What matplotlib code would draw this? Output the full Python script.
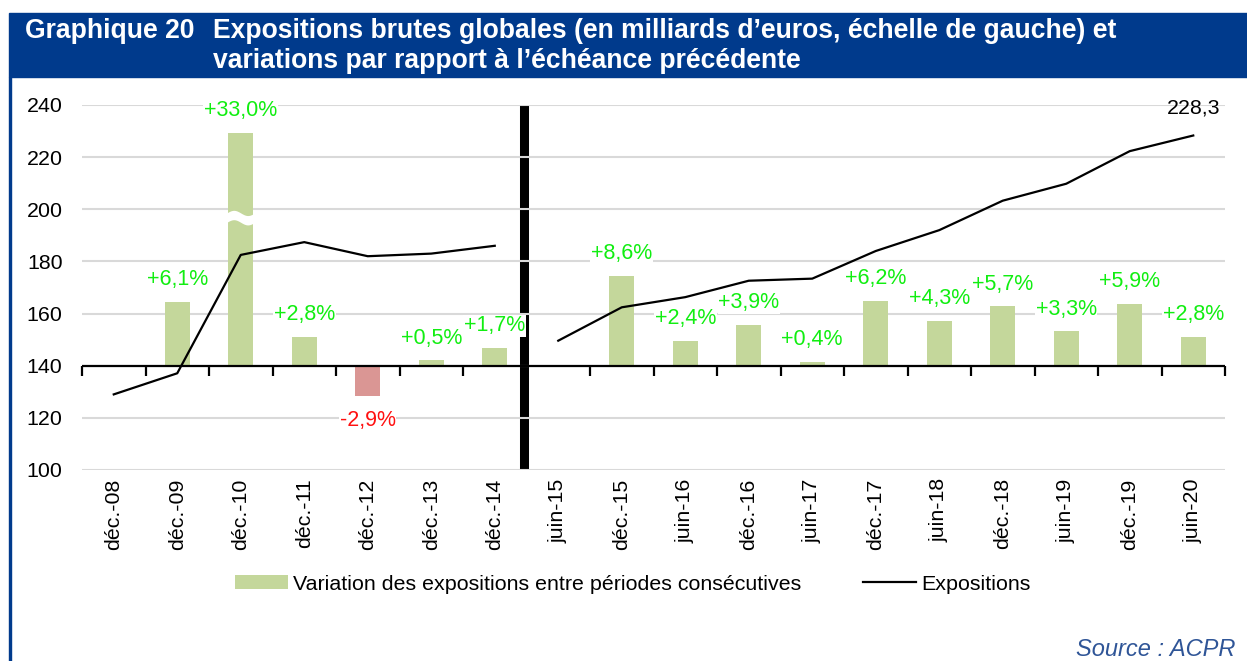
import matplotlib
matplotlib.use("Agg")
import matplotlib.pyplot as plt
from matplotlib.patches import Rectangle, Patch
from matplotlib.lines import Line2D
import numpy as np

# ---- data ----
categories = ["déc.-08", "déc.-09", "déc.-10", "déc.-11", "déc.-12", "déc.-13", "déc.-14",
              "juin-15", "déc.-15", "juin-16", "déc.-16", "juin-17", "déc.-17", "juin-18",
              "déc.-18", "juin-19", "déc.-19", "juin-20"]
expositions = [129.0, 137.1, 182.5, 187.4, 182.0, 183.0, 186.0,
               149.6, 162.4, 166.3, 172.6, 173.4, 184.0, 192.0,
               203.3, 209.8, 222.3, 228.3]
variations = [np.nan, 6.1, 33.0, 2.8, -2.9, 0.5, 1.7,
              np.nan, 8.6, 2.4, 3.9, 0.4, 6.2, 4.3,
              5.7, 3.3, 5.9, 2.8]
var_labels = ["", "+6,1%", "+33,0%", "+2,8%", "-2,9%", "+0,5%", "+1,7%",
              "", "+8,6%", "+2,4%", "+3,9%", "+0,4%", "+6,2%", "+4,3%",
              "+5,7%", "+3,3%", "+5,9%", "+2,8%"]
break_index = 7          # series restart (new perimeter) at juin-15
bar_cap = 22.35          # visible top of the broken 33 % bar (pct scale)
last_label = "228,3"

plt.rcParams['font.family'] = ['Liberation Sans', 'DejaVu Sans']
FS = 15.4

W, H = 1247, 661
fig = plt.figure(figsize=(W / 100, H / 100), dpi=100)

# title band and left border
fig.patches.append(Rectangle((9 / W, 1 - 77 / H), 1 - 9 / W, 64 / H,
                             transform=fig.transFigure, color='#003A8C', zorder=0))
fig.patches.append(Rectangle((9 / W, 0), 2 / W, 1 - 77 / H,
                             transform=fig.transFigure, color='#003A8C', zorder=0))
fig.text(25 / W, 1 - 31 / H, "Graphique 20", color='white', fontsize=19.1,
         fontweight='bold', va='center', ha='left')
fig.text(213 / W, 1 - 31 / H, "Expositions brutes globales (en milliards d’euros, échelle de gauche) et",
         color='white', fontsize=19.1, fontweight='bold', va='center', ha='left')
fig.text(213 / W, 1 - 61 / H, "variations par rapport à l’échéance précédente",
         color='white', fontsize=19.1, fontweight='bold', va='center', ha='left')

left, right, top, bottom = 82, 1225, 105, 470
ax = fig.add_axes([left / W, 1 - bottom / H, (right - left) / W, (bottom - top) / H])
ax2 = ax.twinx()

x = np.arange(len(categories))

# pct axis (bars), 0 % aligned with 140 on exposure axis, 1 % = 4 units
ax.set_ylim(-10, 25)
ax.set_xlim(-0.5, len(categories) - 0.5)
ax.set_yticks(np.arange(-10, 26, 5))
ax.tick_params(axis='y', left=False, labelleft=False, right=False)
ax.grid(axis='y', color='#D9D9D9', linewidth=1.5)
ax.set_axisbelow(True)
for s in ax.spines.values():
    s.set_visible(False)

var = np.array(variations, dtype=float)
shown = np.minimum(var, bar_cap)
colors = ['#C4D79B' if v >= 0 else '#DA9694' for v in np.nan_to_num(var)]
ax.bar(x, shown, width=0.4, color=colors, zorder=2)

# break marks on the truncated bar
for i, v in enumerate(var):
    if not np.isnan(v) and v > bar_cap:
        yy = np.linspace(-0.22, 0.22, 50)
        wave = 14.2 + 0.25 * np.sin((yy + 0.22) / 0.44 * 2 * np.pi)
        ax.fill_between(i + yy, wave - 0.45, wave + 0.45, color='white', zorder=3, lw=0)

# thick separator
ax.axvline(break_index - 0.5 - 0.04, color='black', linewidth=6.5, zorder=0.4)

# baseline with boundary ticks
ax.axhline(0, color='black', linewidth=1.6, zorder=4)
sec = ax.secondary_xaxis(10 / 35)
sec.set_alignment('bottom')
sec.set_xticks(np.arange(-0.5, len(categories), 1.0))
sec.tick_params(axis='x', direction='out', length=7, width=1.6, labelbottom=False,
                color='black')
sec.spines['bottom'].set_visible(False)

# labels for variations
for i, (v, lab) in enumerate(zip(var, var_labels)):
    if np.isnan(v):
        continue
    top_v = min(v, bar_cap)
    if v >= 0:
        ax.annotate(lab, (i, top_v), xytext=(0, 16), textcoords='offset points',
                    ha='center', va='center', fontsize=15.5, color='#11EE11', zorder=5,
                    bbox=dict(facecolor='white', edgecolor='none', pad=0.5))
    else:
        ax.annotate(lab, (i, top_v), xytext=(0, -18), textcoords='offset points',
                    ha='center', va='center', fontsize=15.5, color='#FF1111', zorder=5,
                    bbox=dict(facecolor='white', edgecolor='none', pad=0.5))

ax.set_xticks(x)
ax.set_xticklabels(categories, rotation=90, fontsize=FS)
ax.tick_params(axis='x', length=0, pad=6)

# exposure axis (line), ticks on left
ax2.set_ylim(100, 240)
ax2.set_yticks(np.arange(100, 241, 20))
ax2.yaxis.set_ticks_position('left')
ax2.yaxis.set_label_position('left')
ax2.tick_params(axis='y', length=0, pad=14, labelsize=FS)
for s in ax2.spines.values():
    s.set_visible(False)
expo = np.array(expositions)
ax2.plot(x[:break_index], expo[:break_index], color='black', lw=1.6, zorder=3)
ax2.plot(x[break_index:], expo[break_index:], color='black', lw=1.6, zorder=3)
ax2.annotate(last_label, (x[-1], expo[-1]), xytext=(0, 20), textcoords='offset points',
             ha='center', va='center', fontsize=FS, color='black')

# legend
handles = [Patch(facecolor='#C4D79B', edgecolor='none'),
           Line2D([0], [0], color='black', lw=1.6)]
fig.legend(handles, ["Variation des expositions entre périodes consécutives", "Expositions"],
           loc='center', bbox_to_anchor=(633 / W, 1 - 584 / H), ncol=2, frameon=False,
           fontsize=FS, handlelength=2.45, handleheight=0.6, handletextpad=0.25,
           columnspacing=2.9)

fig.text(1235 / W, 1 - 650 / H, "Source : ACPR", ha='right', va='center',
         fontsize=17, style='italic', color='#2F5597')

fig.savefig("out.png", dpi=100)
